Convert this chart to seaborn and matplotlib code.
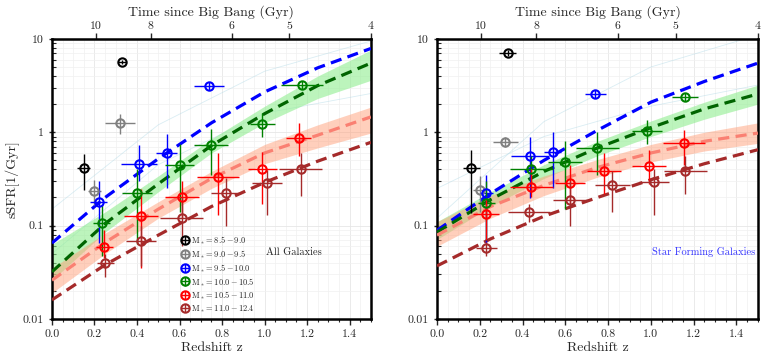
import numpy as np
import matplotlib
matplotlib.use("Agg")
import matplotlib.pyplot as plt
import seaborn as sns

# ---------------- data ----------------
mass_labels = [r"$\rm M_* = 8.5-9.0$", r"$\rm M_* = 9.0-9.5$", r"$\rm M_* = 9.5-10.0$",
               r"$\rm M_* = 10.0-10.5$", r"$\rm M_* = 10.5-11.0$", r"$\rm M_* = 11.0-12.4$"]
colors = ["black", "gray", "blue", "green", "red", "brown"]

# all galaxies: z, sSFR, z error, lower / upper sSFR error
all_z = [
    [0.15, 0.33],
    [0.20, 0.32],
    [0.22, 0.41, 0.54, 0.74],
    [0.235, 0.40, 0.60, 0.75, 0.99, 1.175],
    [0.245, 0.42, 0.61, 0.78, 0.99, 1.16],
    [0.25, 0.42, 0.61, 0.82, 1.01, 1.17],
]
all_ssfr = [
    [0.415, 5.7],
    [0.235, 1.26],
    [0.18, 0.46, 0.60, 3.14],
    [0.107, 0.224, 0.45, 0.73, 1.23, 3.2],
    [0.059, 0.127, 0.20, 0.33, 0.40, 0.87],
    [0.040, 0.069, 0.12, 0.224, 0.286, 0.40],
]
all_zerr = [
    [0.03, 0.02],
    [0.03, 0.07],
    [0.04, 0.085, 0.05, 0.07],
    [0.04, 0.07, 0.07, 0.08, 0.06, 0.1],
    [0.04, 0.08, 0.08, 0.1, 0.07, 0.06],
    [0.04, 0.07, 0.1, 0.07, 0.07, 0.1],
]
all_lo = [
    [0.175, 0.3],
    [0.07, 0.3],
    [0.115, 0.16, 0.35, 0.3],
    [0.06, 0.16, 0.31, 0.38, 0.33, 0.3],
    [0.014, 0.092, 0.08, 0.2, 0.23, 0.32],
    [0.012, 0.032, 0.06, 0.124, 0.156, 0.19],
]
all_hi = [
    [0.165, 0.3],
    [0.07, 0.3],
    [0.12, 0.27, 0.35, 0.3],
    [0.06, 0.18, 0.3, 0.34, 0.37, 0.3],
    [0.03, 0.12, 0.1, 0.27, 0.22, 0.38],
    [0.01, 0.031, 0.08, 0.1, 0.11, 0.2],
]

# star forming galaxies
sf_z = [
    [0.16, 0.33],
    [0.20, 0.32],
    [0.23, 0.435, 0.54, 0.74],
    [0.23, 0.44, 0.60, 0.75, 0.98, 1.16],
    [0.23, 0.44, 0.62, 0.78, 0.99, 1.155],
    [0.23, 0.43, 0.62, 0.82, 1.015, 1.16],
]
sf_ssfr = [
    [0.415, 7.1],
    [0.24, 0.79],
    [0.224, 0.557, 0.62, 2.57],
    [0.175, 0.40, 0.48, 0.68, 1.03, 2.4],
    [0.133, 0.26, 0.286, 0.385, 0.44, 0.77],
    [0.057, 0.14, 0.19, 0.27, 0.294, 0.385],
]
sf_zerr = [
    [0.04, 0.04],
    [0.03, 0.06],
    [0.03, 0.09, 0.04, 0.05],
    [0.04, 0.1, 0.08, 0.1, 0.07, 0.06],
    [0.06, 0.1, 0.07, 0.08, 0.08, 0.1],
    [0.05, 0.1, 0.08, 0.08, 0.07, 0.1],
]
sf_lo = [
    [0.28, 0.5],
    [0.1, 0.1],
    [0.16, 0.36, 0.37, 0.25],
    [0.105, 0.12, 0.33, 0.33, 0.28, 0.25],
    [0.063, 0.06, 0.116, 0.165, 0.16, 0.32],
    [0.01, 0.03, 0.09, 0.13, 0.164, 0.165],
]
sf_hi = [
    [0.235, 0.5],
    [0.1, 0.1],
    [0.126, 0.34, 0.38, 0.25],
    [0.125, 0.15, 0.32, 0.32, 0.32, 0.25],
    [0.067, 0.14, 0.164, 0.215, 0.21, 0.28],
    [0.01, 0.03, 0.11, 0.11, 0.106, 0.165],
]

zfit = [0.0, 0.25, 0.5, 0.75, 1.0, 1.25, 1.5]
all_fit = {
    "blue": [0.065, 0.20, 0.52, 1.26, 2.7, 4.9, 7.9],
    "darkgreen": [0.032, 0.105, 0.28, 0.72, 1.58, 3.16, 5.5],
    "salmon": [0.026, 0.066, 0.15, 0.32, 0.60, 0.93, 1.46],
    "brown": [0.016, 0.038, 0.079, 0.16, 0.29, 0.49, 0.78],
}
sf_fit = {
    "blue": [0.089, 0.22, 0.50, 1.05, 2.1, 3.5, 5.5],
    "darkgreen": [0.085, 0.19, 0.38, 0.68, 1.12, 1.78, 2.57],
    "salmon": [0.079, 0.16, 0.27, 0.42, 0.60, 0.80, 0.98],
    "brown": [0.037, 0.072, 0.126, 0.20, 0.31, 0.46, 0.65],
}
# posterior spread bands
all_green_lo = [0.026, 0.085, 0.23, 0.60, 1.26, 2.3, 3.6]
all_green_hi = [0.063, 0.14, 0.34, 0.85, 1.9, 4.0, 7.6]
all_red_lo = [0.019, 0.05, 0.12, 0.25, 0.46, 0.68, 0.98]
all_red_hi = [0.035, 0.083, 0.18, 0.38, 0.74, 1.2, 1.86]
sf_green_lo = [0.071, 0.16, 0.32, 0.56, 0.90, 1.38, 2.0]
sf_green_hi = [0.11, 0.23, 0.45, 0.80, 1.32, 2.1, 3.2]
sf_red_lo = [0.06, 0.12, 0.21, 0.33, 0.48, 0.63, 0.76]
sf_red_hi = [0.11, 0.21, 0.34, 0.51, 0.74, 1.0, 1.26]

# a few faint posterior draws
faint_z = [0.0, 0.5, 1.0, 1.5]
all_faint = [[0.15, 1.2, 4.5, 9.5], [0.05, 0.45, 1.6, 2.6]]
sf_faint = [[0.12, 1.3, 5.0, 11.0], [0.25, 0.9, 1.9, 3.2]]

# top axis: time since big bang
age_labels = ["10", "8", "6", "5", "4"]
age_z = [0.205, 0.464, 0.845, 1.116, 1.5]

# ---------------- plotting ----------------
sns.set_style("whitegrid")
plt.rcParams["font.family"] = ["cmr10", "DejaVu Serif"]
plt.rcParams["mathtext.fontset"] = "cm"
plt.rcParams["axes.formatter.use_mathtext"] = True

fig = plt.figure(figsize=(7.64, 3.6), dpi=100)
ax1 = fig.add_axes([0.068, 0.114, 0.4175, 0.778])
ax2 = fig.add_axes([0.572, 0.114, 0.420, 0.778])


def draw_panel(ax, zs, ss, ze, lo, hi, fits, glo, ghi, rlo, rhi, faint):
    ax.set_yscale("log")
    for f in faint:
        ax.plot(faint_z, f, color="lightblue", lw=0.6, alpha=0.45, zorder=1)
    ax.fill_between(zfit, glo, ghi, color="lightgreen", alpha=0.6, lw=0, zorder=1)
    ax.fill_between(zfit, rlo, rhi, color="lightsalmon", alpha=0.5, lw=0, zorder=1)
    for col, vals in fits.items():
        sns.lineplot(x=zfit, y=vals, ax=ax, color=col, lw=2.3,
                     linestyle=(0, (3.5, 2)), zorder=3)
    handles = []
    for i in range(len(colors)):
        h = ax.errorbar(zs[i], ss[i], xerr=ze[i], yerr=[lo[i], hi[i]],
                        fmt="o", mfc="none", mec=colors[i], ecolor=colors[i],
                        ms=6, mew=1.5, elinewidth=1, capsize=0, zorder=4,
                        label=mass_labels[i])
        handles.append(h)

    ax.set_xlim(0, 1.5)
    ax.set_ylim(0.01, 10)
    ax.set_yticks([0.01, 0.1, 1, 10])
    ax.set_yticklabels(["0.01", "0.1", "1", "10"])
    ax.set_xticks(np.arange(0, 1.41, 0.2))
    ax.set_xticklabels([f"{v:.1f}" for v in np.arange(0, 1.41, 0.2)])
    ax.set_xticks(np.arange(0, 1.51, 0.05), minor=True)
    ax.grid(True, which="major", color="#e6e6e6", lw=0.6)
    ax.grid(True, which="minor", color="#f0f0f0", lw=0.5)
    ax.tick_params(axis="x", which="major", direction="out", length=4, width=1, labelsize=8.5)
    ax.tick_params(axis="x", which="minor", direction="out", length=2, width=0.8)
    ax.tick_params(axis="y", which="major", direction="inout", length=5, width=1, labelsize=8.5)
    ax.tick_params(axis="y", which="minor", direction="in", length=3, width=0.8)
    ax.tick_params(bottom=True, left=True, which="both")
    for sp in ax.spines.values():
        sp.set_color("black")
        sp.set_linewidth(1.8)
    ax.set_xlabel("Redshift z", fontsize=10, labelpad=2)

    top = ax.secondary_xaxis("top")
    top.set_xticks(age_z)
    top.set_xticklabels(age_labels)
    top.tick_params(direction="out", length=4, width=1, labelsize=8.5, pad=2)
    top.set_xlabel("Time since Big Bang (Gyr)", fontsize=10, labelpad=4)
    return handles


h = draw_panel(ax1, all_z, all_ssfr, all_zerr, all_lo, all_hi, all_fit,
               all_green_lo, all_green_hi, all_red_lo, all_red_hi, all_faint)
draw_panel(ax2, sf_z, sf_ssfr, sf_zerr, sf_lo, sf_hi, sf_fit,
           sf_green_lo, sf_green_hi, sf_red_lo, sf_red_hi, sf_faint)

ax1.set_ylabel("sSFR[1/Gyr]", fontsize=10, labelpad=2)
ax1.legend(handles=h, loc="lower left", bbox_to_anchor=(0.38, -0.01), frameon=False,
           fontsize=6, labelspacing=0.22, handletextpad=0.3, handlelength=1.0)
ax1.text(0.67, 0.23, "All Galaxies", transform=ax1.transAxes, fontsize=7.5)
ax2.text(0.67, 0.23, "Star Forming Galaxies", transform=ax2.transAxes, fontsize=7.5,
         color="blue", alpha=0.8)

fig.savefig("out.png", dpi=100)
